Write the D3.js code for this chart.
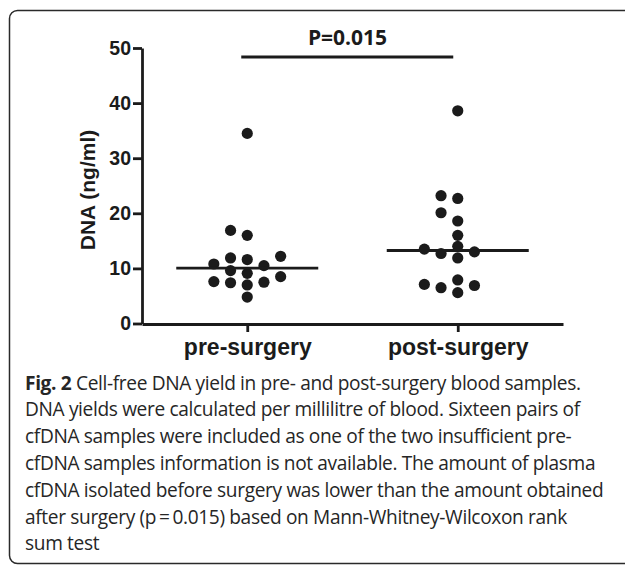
<!DOCTYPE html>
<html>
<head>
<meta charset="utf-8">
<script src="https://cdn.jsdelivr.net/npm/d3@7"></script>
<style>
  html, body { margin: 0; padding: 0; background: #fff; }
  svg { display: block; }
</style>
</head>
<body>
<svg id="chart" width="625" height="565"></svg>
<script>
// ---------------- data ----------------
const categories = ["pre-surgery", "post-surgery"];
const preSurgery  = [34.5, 16.9, 16.0, 12.2, 11.9, 11.6, 10.8, 10.5, 9.6, 9.1, 8.5, 7.6, 7.5, 7.4, 7.0, 4.8];
const postSurgery = [38.6, 23.2, 22.7, 20.1, 18.6, 16.0, 14.0, 13.5, 13.0, 12.7, 11.9, 7.9, 7.1, 6.9, 6.5, 5.6];
const yTicks = [0, 10, 20, 30, 40, 50];
const yTitle = "DNA (ng/ml)";
const pLabel = "P=0.015";
const captionBold = "Fig. 2";
const captionLines = [
  " Cell-free DNA yield in pre- and post-surgery blood samples.",
  "DNA yields were calculated per millilitre of blood. Sixteen pairs of",
  "cfDNA samples were included as one of the two insufficient pre-",
  "cfDNA samples information is not available. The amount of plasma",
  "cfDNA isolated before surgery was lower than the amount obtained",
  "after surgery (p\u2009=\u20090.015) based on Mann-Whitney-Wilcoxon rank",
  "sum test"
];

// ---------------- layout ----------------
const svg = d3.select("#chart");
const ink = "#1b1b1b";
const axisFont = "'Liberation Sans', Arial, Helvetica, sans-serif";
const textFont = "'Open Sans', 'Noto Sans', sans-serif";

svg.append("rect").attr("width", 625).attr("height", 565).attr("fill", "#fff");

// outer frame (extends past right edge as in the reference)
svg.append("rect")
  .attr("x", 9.5).attr("y", 10.5)
  .attr("width", 640).attr("height", 553)
  .attr("rx", 8).attr("ry", 8)
  .attr("fill", "none").attr("stroke", "#2a2a2a").attr("stroke-width", 1.5);

const y = d3.scaleLinear().domain([0, 50]).range([323.5, 48]);
const x = d3.scalePoint().domain(categories).range([142, 563]).padding(0.5);

// y axis
const yAxis = svg.append("g")
  .attr("transform", "translate(142,0)")
  .call(d3.axisLeft(y).tickValues(yTicks).tickSize(9).tickSizeOuter(0).tickPadding(2).tickFormat(d3.format("d")));
yAxis.select(".domain").attr("stroke", ink).attr("stroke-width", 2.8);
yAxis.selectAll(".tick line").attr("stroke", ink).attr("stroke-width", 2.8);
yAxis.selectAll(".tick text")
  .attr("fill", ink).style("font-family", axisFont).style("font-weight", "bold").style("font-size", "19.5px");

// x axis
const xAxis = svg.append("g")
  .attr("transform", "translate(0,324)")
  .call(d3.axisBottom(x).tickSize(8).tickSizeOuter(0).tickPadding(7));
xAxis.select(".domain").attr("stroke", ink).attr("stroke-width", 2.8);
xAxis.selectAll(".tick line").attr("stroke", ink).attr("stroke-width", 2.8);
xAxis.selectAll(".tick text")
  .attr("fill", ink).style("font-family", axisFont).style("font-weight", "bold").style("font-size", "23px");

// y title
svg.append("text")
  .attr("transform", "translate(95,190) rotate(-90)")
  .attr("text-anchor", "middle")
  .attr("fill", ink)
  .style("font-family", axisFont).style("font-weight", "bold").style("font-size", "21px")
  .text(yTitle);

// simple column beeswarm: greedy placement in slots around the category centre
function swarm(values, step, minGap) {
  const order = values.map((v, i) => i).sort((a, b) => values[a] - values[b]);
  const placed = [];
  const slots = [0, -1, 1, -2, 2, -3, 3, -4, 4];
  const offsets = new Array(values.length).fill(0);
  order.forEach(i => {
    const py = y(values[i]);
    for (const s of slots) {
      const clash = placed.some(p => p.s === s && Math.abs(p.py - py) < minGap);
      if (!clash) { placed.push({ s, py }); offsets[i] = s * step; break; }
    }
  });
  return offsets;
}

const groups = [preSurgery, postSurgery];
groups.forEach((vals, gi) => {
  const cx = x(categories[gi]);
  const offs = swarm(vals, 16.7, 11);
  svg.append("g").selectAll("circle")
    .data(vals)
    .join("circle")
    .attr("cx", (d, i) => cx + offs[i])
    .attr("cy", d => y(d))
    .attr("r", 5.6)
    .attr("fill", ink);
  // median line
  const med = d3.median(vals);
  svg.append("line")
    .attr("x1", cx - 71).attr("x2", cx + 71)
    .attr("y1", y(med)).attr("y2", y(med))
    .attr("stroke", ink).attr("stroke-width", 2.8);
});

// significance bar + label
const barY = y(50) + 9;
svg.append("line")
  .attr("x1", x(categories[0]) - 6).attr("x2", x(categories[1]) - 4.5)
  .attr("y1", barY).attr("y2", barY)
  .attr("stroke", ink).attr("stroke-width", 3);
svg.append("text")
  .attr("x", (x(categories[0]) + x(categories[1])) / 2 - 5)
  .attr("y", 45)
  .attr("text-anchor", "middle")
  .attr("fill", ink)
  .style("font-family", textFont).style("font-weight", "bold").style("font-size", "21px")
  .text(pLabel);

// caption
const cap = svg.append("g").attr("fill", "#262626")
  .style("font-family", textFont)
  .style("letter-spacing", "-0.35px");
const capTexts = cap.selectAll("text")
  .data(captionLines)
  .join("text")
  .attr("x", 25)
  .attr("y", (d, i) => 389.5 + i * 26.8)
  .style("font-size", "18px");
capTexts.each(function(d, i) {
  const t = d3.select(this);
  if (i === 0) t.append("tspan").style("font-weight", "bold").text(captionBold);
  t.append("tspan").text(d);
});
// fit font size so the widest line spans like the reference
const ref = capTexts.filter((d, i) => i === 4).node();
const w = ref.getComputedTextLength();
const fs = 18 * 577 / w;
capTexts.style("font-size", fs.toFixed(2) + "px");
</script>
</body>
</html>
